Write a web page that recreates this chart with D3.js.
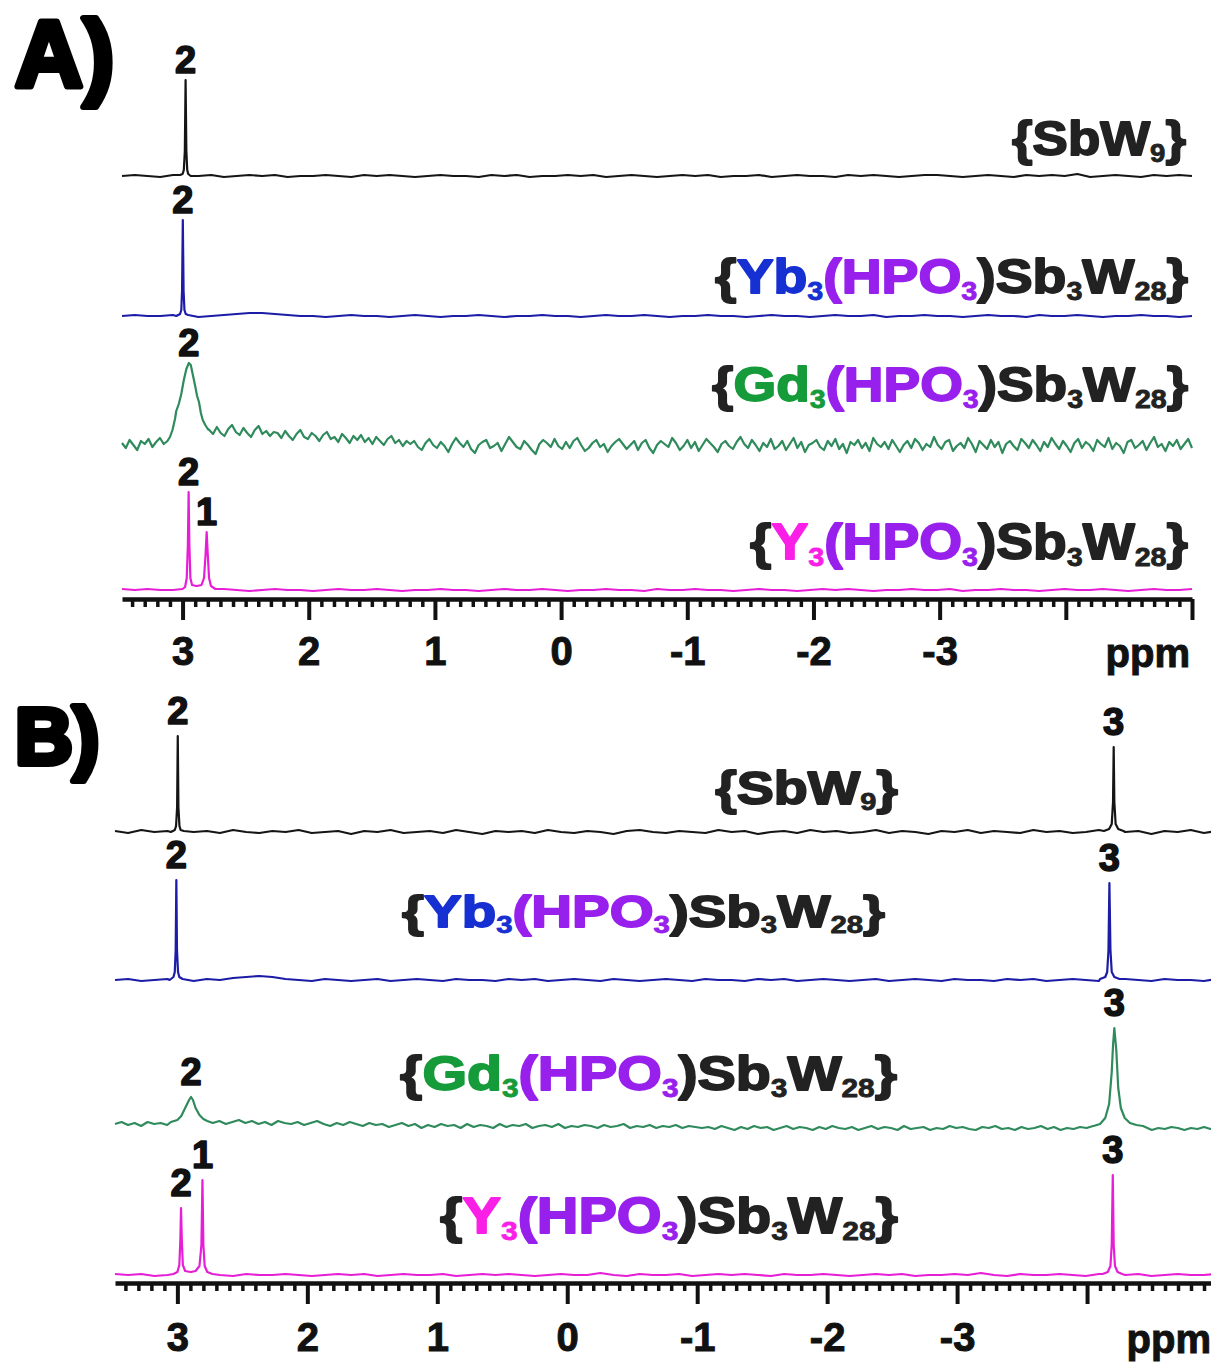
<!DOCTYPE html>
<html>
<head>
<meta charset="utf-8">
<script src="https://cdn.jsdelivr.net/npm/d3@7"></script>
<style>
  body { margin: 0; background: #fff; }
  svg { display: block; }
</style>
</head>
<body>
<svg id="fig" width="1211" height="1362"></svg>
<script>
// ---------------------------------------------------------------------------
// Data
// ---------------------------------------------------------------------------

// Chemical-shift window shared by both panels (ppm, high field to the right)
const ppmRange = [3.48, -5.0];
const majorTicks = [3, 2, 1, 0, -1, -2, -3, -4, -5];
const tickLabels = ["3", "2", "1", "0", "-1", "-2", "-3", "", ""];
const axisUnit = "ppm";
const panelLetters = ["A)", "B)"];

// Compound formulas: [text, colour role, subscript?]
const formulaSbW9 = [["{", "frame"], ["SbW", "frame"], ["9", "frame", true], ["}", "frame"]];
const formulaYb = [["{", "frame"], ["Yb", "yb"], ["3", "yb", true], ["(HPO", "hpo"], ["3", "hpo", true],
  [")Sb", "frame"], ["3", "frame", true], ["W", "frame"], ["28", "frame", true], ["}", "frame"]];
const formulaGd = [["{", "frame"], ["Gd", "gd"], ["3", "gd", true], ["(HPO", "hpo"], ["3", "hpo", true],
  [")Sb", "frame"], ["3", "frame", true], ["W", "frame"], ["28", "frame", true], ["}", "frame"]];
const formulaY = [["{", "frame"], ["Y", "y"], ["3", "y", true], ["(HPO", "hpo"], ["3", "hpo", true],
  [")Sb", "frame"], ["3", "frame", true], ["W", "frame"], ["28", "frame", true], ["}", "frame"]];

// Baseline intensities sampled evenly across ppmRange (arbitrary units)
const baseSbW9A = [0,1,0,-1,1,0,0,1,-1,0,1,0,1,-1,0,0,1,0,-1,1,0,1,0,-1,0,1,0,0,-1,1,0,1,-1,0,0,1,0,1,-1,0,1,0,-1,0,1,0,1,-1,0,0,1,-1,0,1,0,0,-1,1,0,1,0,-1,0,1,1,0,-1,0,1,0,-1,1,0,1,0,2,-1,0,1,0,-1,1,0,1,0];
const baseYbA = [0,1,0,0,1,0,-1,0,1,2,3,3,2,1,0,0,-1,0,1,0,0,-1,0,1,0,-1,0,0,1,0,-1,0,0,1,0,0,-1,0,1,0,0,1,0,-1,0,0,1,0,0,-1,0,1,0,0,-1,0,1,0,0,1,-1,0,0,1,0,0,-1,0,1,0,0,-1,1,0,0,1,0,-1,0,0,1,0,0,-1,0];
const baseGdA = [3,-2,6,1,-4,5,2,7,-1,4,8,2,6,
  20,40,60,80,80,60,40,25,20,18,
  16,12,19,13,10,17,21,14,11,18,13,9,16,20,12,15,10,14,
  13,8,15,10,6,12,16,9,7,13,10,5,11,14,7,9,4,12,8,3,10,6,11,4,8,2,9,5,1,7,10,3,6,0,5,
  2,5,-1,-4,3,7,1,-2,4,0,
  -6,2,8,3,-1,5,-3,-7,1,4,
  6,-2,0,3,-5,2,9,4,-1,-3,
  5,1,-4,-8,2,6,3,-1,7,0,
  -3,4,-2,5,8,1,-5,-2,3,6,
  -1,2,-6,0,4,7,2,-3,1,5,
  -4,3,6,-2,-7,1,5,2,-1,8,
  3,-4,0,6,-2,4,-5,1,7,3,
  -1,-6,2,5,0,-3,4,9,2,-2,
  6,1,-5,3,-1,7,-3,0,5,-4,
  2,8,-2,4,-6,1,3,6,-1,-4,
  5,0,7,-3,2,-7,4,1,6,-2,
  3,-5,8,2,-1,4,-3,6,0,-6,
  1,5,-2,7,3,-4,2,-1,9,1,
  -3,4,6,-5,0,3,-2,8,2,-6,
  5,1,-3,6,-1,4,-7,2,5,0,
  -4,7,3,-2,6,1,-5,4,-1,8,
  2,-3,5,0,-6,3,7,-2,4,1,
  -5,6,2,-1,8,-3,3,0,-7,4,
  6,-2,1,5,-4,3,9,-1,2,-5,
  4,0,6,-3,2,7,-2];
const baseYA = [1,0,1,0,0,1,0,0,1,0,-1,0,1,0,0,-1,0,1,0,0,1,0,-1,0,0,1,0,0,-1,0,1,0,0,1,0,-1,0,0,1,0,0,-1,1,0,0,1,0,0,-1,0,1,0,0,-1,0,1,0,1,0,-1,0,0,1,0,0,1,-1,0,0,1,0,0,-1,0,1,0,0,1,0,-1,0,1,0,0,1];

const baseSbW9B = [1,-1,2,0,1,-2,0,1,-1,2,0,-1,1,0,2,-1,0,1,-2,1,0,2,-1,0,1,-1,2,0,-2,1,0,1,-1,2,0,-1,1,0,-2,1,2,0,-1,1,0,-1,2,0,1,-2,0,1,-1,2,0,1,-1,0,2,-1,1,0,-2,1,0,2,-1,1,0,-1,2,0,1,-1,0,2,-1,0,1,-2,1,0,2,-1,1];
const baseYbB = [0,1,-1,0,1,0,-1,1,0,2,3,4,3,1,0,-1,1,0,-1,0,1,-1,0,1,0,-1,1,0,0,-1,1,0,1,-1,0,1,0,-1,1,0,-1,0,1,0,-1,1,0,0,-1,1,0,1,-1,0,1,0,-1,0,1,-1,0,1,0,-1,1,0,0,-1,1,0,1,-1,0,1,0,-1,0,1,0,-1,1,0,0,-1,1];
const baseGdB = [6,8,5,7,4,8,6,7,5,8,
  20,30,20,12,9,
  7,9,6,8,10,7,9,6,8,5,9,7,6,8,5,7,9,6,4,7,5,8,6,4,7,5,
  6,3,5,7,4,6,2,5,3,6,4,5,2,6,3,5,4,2,6,3,5,4,6,2,4,5,3,6,2,4,3,5,4,2,5,3,4,6,2,4,3,5,2,4,3,5,2,4,3,2,
  3,1,4,2,0,3,1,4,2,3,0,2,4,1,3,2,0,3,1,4,2,1,3,0,2,4,1,3,2,0,4,1,2,3,0,2,1,4,2,3,1,0,3,2,4,1,2,0,3,1,2,4,1,3,0,2,1,3,2,4,10,30,20,8,3,2,1,3,0,2,1,3,2,0,2,1,3,1,2];
const baseYB = [1,0,1,-1,0,1,0,1,0,-1,1,0,0,1,0,-1,0,1,0,1,-1,0,1,0,0,1,-1,0,1,0,1,0,-1,0,1,0,0,2,0,-1,1,0,0,1,-1,0,1,0,1,0,-1,1,0,0,1,0,-1,0,1,0,1,-1,0,0,1,0,2,0,-1,1,0,0,1,0,-1,1,0,0,1,-1,0,1,0,0,1];

// Resonances as [ppm, intensity] points, grouped per assigned signal
const peaksSbW9A = [
  { label: "2", points: [[3.02,1],[3.0,2],[2.99,6],[2.982,25],[2.976,96],[2.97,25],[2.963,6],[2.955,2],[2.935,0]] }
];
const peaksYbA = [
  { label: "2", points: [[3.05,0],[3.02,2],[3.01,6],[3.004,25],[2.998,96],[2.992,25],[2.985,6],[2.975,2],[2.955,1]] }
];
const peaksGdA = [
  { label: "2", points: [[3.12,5],[3.1,9],[3.08,16],[3.06,27],[3.05,35],[3.03,42],[3.01,52],[2.99,66],[2.97,77],[2.95,83],[2.935,81],[2.92,72],[2.9,60],[2.885,50],[2.87,44],[2.855,33],[2.84,26],[2.82,21],[2.80,17]] }
];
const peaksYA = [
  { label: "2", points: [[3.0,1],[2.98,3],[2.967,12],[2.958,45],[2.952,98],[2.946,45],[2.938,12],[2.925,5],[2.89,4]] },
  { label: "1", points: [[2.885,4],[2.85,5],[2.83,12],[2.818,35],[2.809,58],[2.8,35],[2.79,12],[2.775,4],[2.74,1]] }
];

const peaksSbW9B = [
  { label: "2", points: [[3.05,0],[3.02,2],[3.01,6],[3.002,25],[2.997,96],[2.992,25],[2.984,6],[2.975,2],[2.95,1]] },
  { label: "3", points: [[-4.13,1],[-4.17,3],[-4.19,8],[-4.2,30],[-4.205,85],[-4.21,30],[-4.22,8],[-4.24,3],[-4.28,1]] }
];
const peaksYbB = [
  { label: "2", points: [[3.06,0],[3.03,3],[3.02,8],[3.013,30],[3.008,100],[3.003,30],[2.995,8],[2.985,3],[2.96,1]] },
  { label: "3", points: [[-4.1,1],[-4.14,3],[-4.155,8],[-4.165,30],[-4.172,97],[-4.18,30],[-4.19,8],[-4.21,3],[-4.25,1]] }
];
const peaksGdB = [
  { label: "2", points: [[3.05,8],[3.0,10],[2.97,14],[2.94,22],[2.91,30],[2.895,33],[2.88,30],[2.86,22],[2.83,15],[2.8,11],[2.77,9]] },
  { label: "3", points: [[-4.05,4],[-4.1,6],[-4.14,12],[-4.17,26],[-4.19,58],[-4.2,85],[-4.21,102],[-4.225,80],[-4.24,42],[-4.26,22],[-4.29,12],[-4.33,7],[-4.38,5],[-4.43,4]] }
];
const peaksYB = [
  { label: "2", points: [[3.03,1],[3.0,3],[2.985,10],[2.977,35],[2.972,67],[2.966,35],[2.958,10],[2.94,4],[2.9,3]] },
  { label: "1", points: [[2.895,3],[2.86,4],[2.83,9],[2.815,30],[2.807,95],[2.8,30],[2.79,9],[2.77,3],[2.73,1]] },
  { label: "3", points: [[-4.12,1],[-4.16,3],[-4.18,9],[-4.19,30],[-4.198,100],[-4.205,30],[-4.215,9],[-4.235,3],[-4.27,1]] }
];

// ---------------------------------------------------------------------------
// Styling and layout
// ---------------------------------------------------------------------------
const traceColor = { sbw9: "#151515", yb: "#1c1ca6", gd: "#2f8a5c", y: "#e61fd6" };
const roleColor = { frame: "#222222", yb: "#1630d2", gd: "#169b3a", y: "#fa1fe6", hpo: "#9820ec" };
const FONT = "'Liberation Sans', Arial, Helvetica, sans-serif";

const panels = [
  {
    letter: panelLetters[0], letterX: 15, letterY: 87, letterSize: 94,
    x0: 122, x1: 1192, axisY: 599, tickPad: 17, unitX: 1190, unitY: 667, labelGap: 7,
    traces: [
      { key: "sbw9", base: baseSbW9A, peaks: peaksSbW9A, y0: 176, formula: formulaSbW9, fx: 1186, fy: 155, fs: 48, fw: 174 },
      { key: "yb",   base: baseYbA,   peaks: peaksYbA,   y0: 316, formula: formulaYb,   fx: 1188, fy: 293, fs: 48, fw: 473 },
      { key: "gd",   base: baseGdA,   peaks: peaksGdA,   y0: 446, formula: formulaGd,   fx: 1188, fy: 401, fs: 49, fw: 476 },
      { key: "y",    base: baseYA,    peaks: peaksYA,    y0: 590, formula: formulaY,    fx: 1188, fy: 559, fs: 50, fw: 438 }
    ]
  },
  {
    letter: panelLetters[1], letterX: 15, letterY: 764, letterSize: 80,
    x0: 115, x1: 1217, axisY: 1283, tickPad: 19, unitX: 1211, unitY: 1353, labelGap: 12,
    traces: [
      { key: "sbw9", base: baseSbW9B, peaks: peaksSbW9B, y0: 832,  formula: formulaSbW9, fx: 898, fy: 804,  fs: 46, fw: 183 },
      { key: "yb",   base: baseYbB,   peaks: peaksYbB,   y0: 980,  formula: formulaYb,   fx: 885, fy: 927,  fs: 45, fw: 483 },
      { key: "gd",   base: baseGdB,   peaks: peaksGdB,   y0: 1130, formula: formulaGd,   fx: 897, fy: 1090, fs: 48, fw: 497 },
      { key: "y",    base: baseYB,    peaks: peaksYB,    y0: 1275, formula: formulaY,    fx: 898, fy: 1233, fs: 50, fw: 458 }
    ]
  }
];

// ---------------------------------------------------------------------------
// Drawing
// ---------------------------------------------------------------------------
const svg = d3.select("#fig");
svg.append("rect").attr("width", 1211).attr("height", 1362).attr("fill", "#fff");

// Combine evenly sampled baseline with the explicit resonance points
function buildTrace(base, peaks) {
  const n = base.length;
  const step = (ppmRange[1] - ppmRange[0]) / (n - 1);
  const windows = peaks.map(p => d3.extent(p.points, d => d[0]));
  const pts = [];
  base.forEach((v, i) => {
    const ppm = ppmRange[0] + i * step;
    if (!windows.some(([lo, hi]) => ppm >= lo && ppm <= hi)) pts.push([ppm, v]);
  });
  peaks.forEach(p => p.points.forEach(d => pts.push(d)));
  return pts.sort((a, b) => b[0] - a[0]);
}

function drawFormula(g, parts, fx, fy, fs, fw) {
  const t = g.append("text")
    .attr("font-family", FONT)
    .attr("font-weight", "bold")
    .attr("font-size", fs)
    .attr("text-anchor", "end")
    .attr("x", 0).attr("y", 0);
  const drop = fs * 0.14;
  let lowered = false;
  parts.forEach(([txt, role, sub]) => {
    const ts = t.append("tspan").text(txt)
      .attr("fill", roleColor[role])
      .attr("stroke", roleColor[role])
      .attr("stroke-width", sub ? 0.8 : 1.8)
      .attr("stroke-linejoin", "round");
    if (sub) {
      ts.attr("font-size", fs * 0.52);
      if (!lowered) { ts.attr("dy", drop); lowered = true; }
    } else if (lowered) {
      ts.attr("dy", -drop); lowered = false;
    }
  });
  const w = t.node().getBBox().width;
  const sx = fw / w;
  t.attr("transform", `translate(${fx},${fy}) scale(${sx},1)`);
}

panels.forEach(panel => {
  const g = svg.append("g");
  const x = d3.scaleLinear().domain(ppmRange).range([panel.x0, panel.x1]);

  // Panel letter
  g.append("text")
    .attr("x", panel.letterX).attr("y", panel.letterY)
    .attr("font-family", FONT).attr("font-weight", "bold")
    .attr("font-size", panel.letterSize)
    .attr("fill", "#000").attr("stroke", "#000").attr("stroke-width", 6)
    .attr("stroke-linejoin", "round")
    .text(panel.letter);

  // Spectra
  panel.traces.forEach(tr => {
    const y = d3.scaleLinear().domain([0, 100]).range([tr.y0, tr.y0 - 100]);
    const pts = buildTrace(tr.base, tr.peaks);
    const line = d3.line().x(d => x(d[0])).y(d => y(d[1]));
    g.append("path")
      .attr("d", line(pts))
      .attr("fill", "none")
      .attr("stroke", traceColor[tr.key])
      .attr("stroke-width", 2.2)
      .attr("stroke-linejoin", "round");

    // Signal assignments above each resonance
    tr.peaks.forEach(p => {
      const top = p.points.reduce((a, b) => (b[1] > a[1] ? b : a));
      g.append("text")
        .attr("x", x(top[0]))
        .attr("y", y(top[1]) - panel.labelGap)
        .attr("text-anchor", "middle")
        .attr("font-family", FONT).attr("font-weight", "bold")
        .attr("font-size", 38)
        .attr("fill", "#111").attr("stroke", "#111").attr("stroke-width", 1.6)
        .attr("stroke-linejoin", "round")
        .text(p.label);
    });

    drawFormula(g, tr.formula, tr.fx, tr.fy, tr.fs, tr.fw);
  });

  // Axis: minor ticks every 0.1 ppm, labelled major ticks every 1 ppm
  const minorTicks = d3.range(34, -51, -1).filter(d => d % 10 !== 0).map(d => d / 10);
  const axisG = g.append("g").attr("transform", `translate(0,${panel.axisY})`);

  const minorAxis = d3.axisBottom(x).tickValues(minorTicks).tickSize(8).tickSizeOuter(0).tickFormat("");
  const mg = axisG.append("g").call(minorAxis);
  mg.select(".domain").remove();
  mg.selectAll(".tick line").attr("stroke", "#111").attr("stroke-width", 3.5);

  const majorAxis = d3.axisBottom(x).tickValues(majorTicks).tickSize(21).tickSizeOuter(0)
    .tickPadding(panel.tickPad).tickFormat((d, i) => tickLabels[i]);
  const Mg = axisG.append("g").call(majorAxis);
  Mg.attr("font-family", FONT).attr("font-size", 40).attr("font-weight", "bold");
  Mg.select(".domain").attr("stroke", "#111").attr("stroke-width", 4.5);
  Mg.selectAll(".tick line").attr("stroke", "#111").attr("stroke-width", 4);
  Mg.selectAll(".tick text").attr("fill", "#111").attr("stroke", "#111").attr("stroke-width", 1);

  g.append("text")
    .attr("x", panel.unitX).attr("y", panel.unitY)
    .attr("text-anchor", "end")
    .attr("font-family", FONT).attr("font-weight", "bold").attr("font-size", 40)
    .attr("fill", "#111").attr("stroke", "#111").attr("stroke-width", 1)
    .text(axisUnit);
});
</script>
</body>
</html>
